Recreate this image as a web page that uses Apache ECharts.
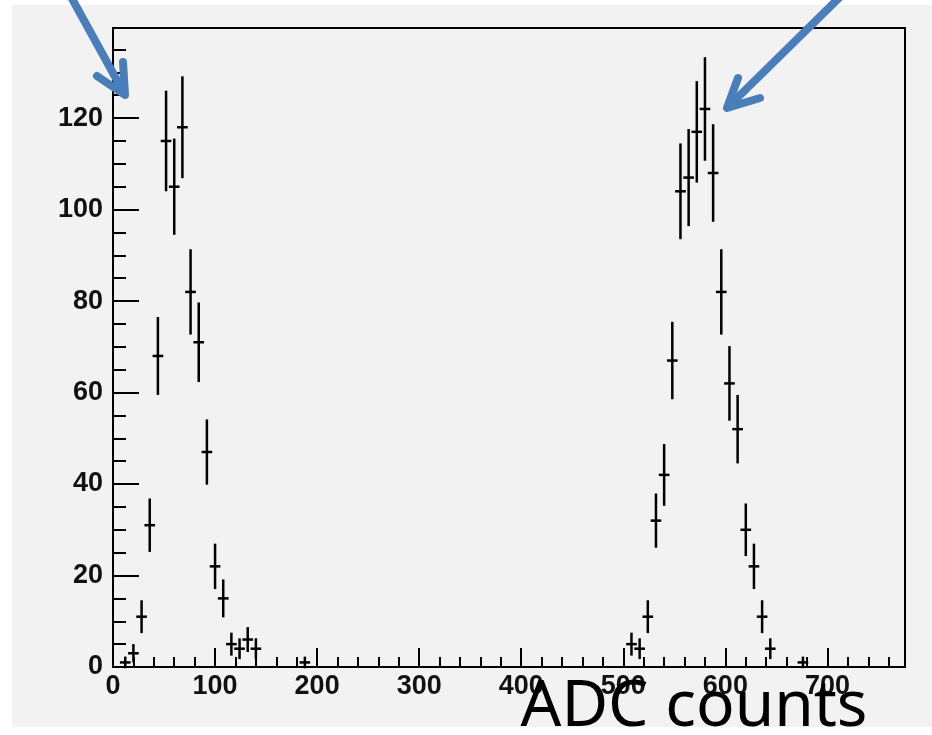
<!DOCTYPE html>
<html>
<head>
<meta charset="utf-8">
<title>ADC counts</title>
<script src="https://cdn.jsdelivr.net/npm/echarts@6/dist/echarts.min.js"></script>
<style>
    html, body { margin: 0; padding: 0; background: #fff; }
    #adc-chart { width: 932px; height: 735px; }
</style>
</head>
<body>
<div id="adc-chart"></div>
<script>
// bin centres (ADC counts), bins are 8 counts wide, empty bins not drawn
const binCenters = [12, 20, 28, 36, 44, 52, 60, 68, 76, 84, 92, 100, 108, 116, 124, 132, 140, 188,
    508, 516, 524, 532, 540, 548, 556, 564, 572, 580, 588, 596, 604, 612, 620, 628, 636, 644, 676];
// entries per bin
const binCounts = [1, 3, 11, 31, 68, 115, 105, 118, 82, 71, 47, 22, 15, 5, 4, 6, 4, 1,
    5, 4, 11, 32, 42, 67, 104, 107, 117, 122, 108, 82, 62, 52, 30, 22, 11, 4, 1];
const binWidth = 8;

// axis ranges / tick steps
const xRange = [0, 776];
const yRange = [0, 139.7];
const xMajorStep = 100, xMinorStep = 20;
const yMajorStep = 20, yMinorStep = 5;

const axisTitle = "ADC counts";

renderAdcChart();

function renderAdcChart() {
    let adcChart = echarts.init(document.getElementById("adc-chart"), null, {renderer: "canvas"});

    //组装数据点
    let points = [];
    for (let i = 0; i < binCenters.length; i++) {
        points.push([binCenters[i], binCounts[i]]);
    }

    const labelFont = {
        color: "#111",
        fontFamily: "Liberation Sans",
        fontWeight: "bold",
        fontSize: 27
    };

    let option = {
        animation: false,
        backgroundColor: "#fff",
        grid: {
            left: 113,
            top: 28,
            right: 27,
            bottom: 68,
            show: true,
            borderColor: "#000",
            borderWidth: 2,
            backgroundColor: "transparent"
        },
        xAxis: [{
            // major ticks + labels
            type: "value",
            position: "bottom",
            min: xRange[0],
            max: xRange[1],
            interval: xMajorStep,
            axisLine: {show: true, onZero: false, lineStyle: {color: "#000", width: 2}},
            axisTick: {show: true, inside: true, length: 19, lineStyle: {color: "#000", width: 2}},
            axisLabel: Object.assign({margin: 6, showMaxLabel: false}, labelFont),
            splitLine: {show: false}
        }, {
            // minor ticks
            type: "value",
            position: "bottom",
            min: xRange[0],
            max: xRange[1],
            interval: xMinorStep,
            axisLine: {show: false},
            axisTick: {show: true, inside: true, length: 10, lineStyle: {color: "#000", width: 2}},
            axisLabel: {show: false},
            splitLine: {show: false}
        }],
        yAxis: [{
            type: "value",
            position: "left",
            min: yRange[0],
            max: yRange[1],
            interval: yMajorStep,
            axisLine: {show: true, onZero: false, lineStyle: {color: "#000", width: 2}},
            axisTick: {show: true, inside: true, length: 26, lineStyle: {color: "#000", width: 2}},
            axisLabel: Object.assign({margin: 10, showMaxLabel: false}, labelFont),
            splitLine: {show: false}
        }, {
            type: "value",
            position: "left",
            min: yRange[0],
            max: yRange[1],
            interval: yMinorStep,
            axisLine: {show: false},
            axisTick: {show: true, inside: true, length: 13, lineStyle: {color: "#000", width: 2}},
            axisLabel: {show: false},
            splitLine: {show: false}
        }],
        graphic: [{
            // pad background
            type: "rect",
            z: -100,
            silent: true,
            shape: {x: 12, y: 5, width: 920, height: 722},
            style: {fill: "#f2f2f2"}
        }, {
            type: "text",
            z: 100,
            style: {
                text: axisTitle,
                x: 694,
                y: 708,
                align: "center",
                verticalAlign: "middle",
                fill: "#000",
                font: "64px 'Noto Sans'"
            }
        },
            // 左侧箭头
            arrowShaft([[70, -5], [124, 93]]),
            arrowShaft([[123, 62], [125, 95], [97, 76]]),
            // 右侧箭头
            arrowShaft([[842, -5], [729, 106]]),
            arrowShaft([[738, 78], [727, 108], [760, 98]])
        ],
        series: [{
            name: "entries",
            type: "custom",
            xAxisIndex: 0,
            yAxisIndex: 0,
            data: points,
            renderItem: function (params, api) {
                const x = api.value(0);
                const y = api.value(1);
                const err = Math.sqrt(y);   //泊松误差
                const left = api.coord([x - binWidth / 2, y]);
                const right = api.coord([x + binWidth / 2, y]);
                const low = api.coord([x, y - err]);
                const high = api.coord([x, y + err]);
                const style = {stroke: "#000", lineWidth: 2.5, lineCap: "square"};
                return {
                    type: "group",
                    children: [{
                        type: "line",
                        shape: {x1: left[0], y1: left[1], x2: right[0], y2: right[1]},
                        style: style
                    }, {
                        type: "line",
                        shape: {x1: low[0], y1: low[1], x2: high[0], y2: high[1]},
                        style: style
                    }]
                };
            }
        }]
    };

    adcChart.setOption(option);
}

function arrowShaft(pts) {
    return {
        type: "polyline",
        z: 100,
        silent: true,
        shape: {points: pts},
        style: {
            stroke: "#4a7ebb",
            lineWidth: 8,
            lineCap: "round",
            lineJoin: "round",
            fill: null
        }
    };
}
</script>
</body>
</html>
